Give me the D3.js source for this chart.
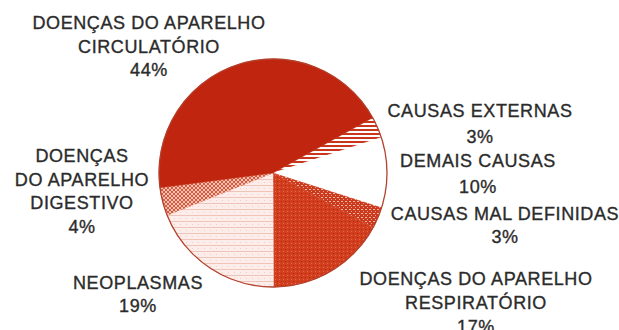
<!DOCTYPE html>
<html>
<head>
<meta charset="utf-8">
<script src="https://cdn.jsdelivr.net/npm/d3@7"></script>
<style>
  html, body { margin: 0; padding: 0; background: #ffffff; }
  svg { display: block; }
  .lbl { font-family: "Liberation Sans", Arial, sans-serif; font-size: 18px; letter-spacing: 0.6px; fill: #2b2b2b; stroke: #2b2b2b; stroke-width: 0.35px; }
</style>
</head>
<body>
<div id="chart"></div>
<script>
// Causes of death, share of total (%)
const categories = [
  "CAUSAS EXTERNAS",
  "DEMAIS CAUSAS",
  "CAUSAS MAL DEFINIDAS",
  "DOENÇAS DO APARELHO RESPIRATÓRIO",
  "NEOPLASMAS",
  "DOENÇAS DO APARELHO DIGESTIVO",
  "DOENÇAS DO APARELHO CIRCULATÓRIO"
];
const values = [3, 10, 3, 17, 19, 4, 44];
// how each category name is broken over lines in its label
const labelLines = [
  ["CAUSAS EXTERNAS"],
  ["DEMAIS CAUSAS"],
  ["CAUSAS MAL DEFINIDAS"],
  ["DOENÇAS DO APARELHO", "RESPIRATÓRIO"],
  ["NEOPLASMAS"],
  ["DOENÇAS", "DO APARELHO", "DIGESTIVO"],
  ["DOENÇAS DO APARELHO", "CIRCULATÓRIO"]
];

const W = 619, H = 330;
const cx = 273, cy = 173, R = 114;

const svg = d3.select("#chart").append("svg")
  .attr("width", W).attr("height", H)
  .attr("viewBox", `0 0 ${W} ${H}`);

const defs = svg.append("defs");
const RED = "#c0260f";

// fill textures
function pattern(id, w, h, bg, draw) {
  const p = defs.append("pattern").attr("id", id)
    .attr("patternUnits", "userSpaceOnUse").attr("width", w).attr("height", h);
  p.append("rect").attr("width", w).attr("height", h).attr("fill", bg);
  draw(p);
}
// horizontal red/white stripes
pattern("pExt", 4, 4, "#ffffff", p => {
  p.append("rect").attr("y", 0).attr("width", 4).attr("height", 2).attr("fill", "#c9361c");
});
// red with light pink flecks
pattern("pMal", 4, 4, "#cc3a1d", p => {
  p.append("rect").attr("x", 0).attr("y", 0).attr("width", 2).attr("height", 1).attr("fill", "#f2b6a6");
  p.append("rect").attr("x", 2).attr("y", 2).attr("width", 1).attr("height", 1).attr("fill", "#eea392");
});
// stippled red
pattern("pResp", 4, 4, "#d23f1f", p => {
  p.append("rect").attr("x", 0).attr("y", 0).attr("width", 1).attr("height", 1).attr("fill", "#b5240c");
  p.append("rect").attr("x", 2).attr("y", 2).attr("width", 1).attr("height", 1).attr("fill", "#e0694d");
});
// pale pink with faint ruled lines
pattern("pNeo", 6, 6, "#fcedea", p => {
  p.append("rect").attr("x", 0).attr("y", 0).attr("width", 6).attr("height", 1).attr("fill", "#efc5ba");
  p.append("rect").attr("x", 3).attr("y", 3).attr("width", 1).attr("height", 1).attr("fill", "#f1cfc6");
});
// pink/red check
pattern("pDig", 4, 4, "#f4c2b4", p => {
  p.append("rect").attr("x", 0).attr("y", 0).attr("width", 2).attr("height", 2).attr("fill", "#d65a3e");
  p.append("rect").attr("x", 2).attr("y", 2).attr("width", 2).attr("height", 2).attr("fill", "#d65a3e");
});

const fills = ["url(#pExt)", "#ffffff", "url(#pMal)", "url(#pResp)", "url(#pNeo)", "url(#pDig)", RED];

const start = 61 * Math.PI / 180;
const pie = d3.pie().sort(null).value(d => d).startAngle(start).endAngle(start + 2 * Math.PI);
const arc = d3.arc().innerRadius(0).outerRadius(R);
const arcs = pie(values);

const g = svg.append("g").attr("transform", `translate(${cx},${cy})`);
g.selectAll("path.slice").data(arcs).enter().append("path")
  .attr("class", "slice")
  .attr("d", arc)
  .attr("fill", (d, i) => fills[i])
  .attr("stroke", (d, i) => fills[i])
  .attr("stroke-width", 0.5);

// rim
g.append("circle").attr("r", R).attr("fill", "none")
  .attr("stroke", "#b3412c").attr("stroke-width", 1.3);

// label anchors: centre x, first-line centre y, line pitch
const labelLayout = [
  [480, 111, 26],
  [478, 161, 26],
  [505, 214, 23],
  [476, 279, 24],
  [138, 283, 23],
  [82, 156, 23.5],
  [149, 23, 23.5]
];

const labels = svg.append("g");
arcs.forEach((a, i) => {
  const [lx, ly, pitch] = labelLayout[i];
  const lines = labelLines[i].concat([d3.format("d")(a.data) + "%"]);
  const t = labels.append("text").attr("class", "lbl")
    .attr("text-anchor", "middle");
  lines.forEach((s, k) => {
    t.append("tspan").attr("x", lx).attr("y", ly + k * pitch)
      .attr("dominant-baseline", "central").text(s);
  });
});
</script>
</body>
</html>
